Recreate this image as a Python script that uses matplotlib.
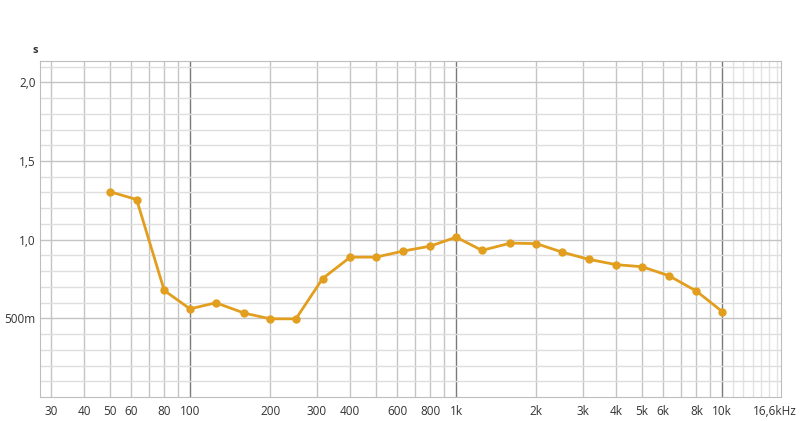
import numpy as np
import matplotlib
matplotlib.use("Agg")
import matplotlib.pyplot as plt
import matplotlib.transforms as mtransforms

# Third-octave band centre frequencies (Hz) and reverberation time (s)
freqs = [50, 63, 80, 100, 125, 160, 200, 250, 315, 400, 500, 630, 800,
         1000, 1250, 1600, 2000, 2500, 3150, 4000, 5000, 6300, 8000, 10000]
rt = [1.305, 1.255, 0.677, 0.560, 0.599, 0.533, 0.497, 0.497, 0.753, 0.889,
      0.889, 0.927, 0.959, 1.016, 0.932, 0.978, 0.975, 0.921, 0.875, 0.841,
      0.828, 0.771, 0.673, 0.543]

xtick_vals = [30, 40, 50, 60, 80, 100, 200, 300, 400, 600, 800, 1000,
              2000, 3000, 4000, 5000, 6000, 8000, 10000, 16600]
xtick_labels = ["30", "40", "50", "60", "80", "100", "200", "300", "400",
                "600", "800", "1k", "2k", "3k", "4k", "5k", "6k", "8k", "10k",
                "16,6kHz"]
ytick_vals = [0.5, 1.0, 1.5, 2.0]
ytick_labels = ["500m", "1,0", "1,5", "2,0"]

plt.rcParams["font.family"] = ["Open Sans", "DejaVu Sans"]

fig = plt.figure(figsize=(8, 4.21), dpi=100)
ax = fig.add_axes([0.05, 0.057, 0.926, 0.799])
ax.set_xscale("log")
ax.set_xlim(27.3, 16600)
ax.set_ylim(0, 2.138)

# vertical grid
for dec in [10, 100, 1000]:
    for m in range(2, 10):
        f = m * dec
        if 27.3 < f < 16600:
            ax.axvline(f, color="#c4c4c4", lw=1, zorder=0)
for f in range(11000, 17000, 1000):
    ax.axvline(f, color="#e2e2e2", lw=1, zorder=0)
for f in [100, 1000, 10000]:
    ax.axvline(f, color="#7a7a7a", lw=1, zorder=0)

# horizontal grid
for v in np.arange(0.1, 2.15, 0.1):
    major = abs(v * 2 - round(v * 2)) < 1e-6
    ax.axhline(v, color="#c4c4c4" if major else "#dedede", lw=1, zorder=0)

ax.plot(freqs, rt, color="#E29E1E", lw=2, marker="o", ms=5, zorder=3)

ax.set_xticks(xtick_vals)
ax.set_xticklabels(xtick_labels)
ax.xaxis.set_minor_locator(matplotlib.ticker.NullLocator())
ax.set_yticks(ytick_vals)
ax.set_yticklabels(ytick_labels)
ax.tick_params(length=0, labelsize=8.5, colors="#333333", pad=6)
ax.tick_params(axis="y", pad=3)
for s in ax.spines.values():
    s.set_color("#bdbdbd")

# pull the last label inside the figure
last = ax.get_xticklabels()[-1]
last.set_transform(last.get_transform() +
                   mtransforms.ScaledTranslation(-6 / 100, 0, fig.dpi_scale_trans))

fig.text(0.044, 0.875, "s", fontsize=8, color="#333333", ha="center",
         fontweight="bold")

fig.savefig("out.png", dpi=100)
